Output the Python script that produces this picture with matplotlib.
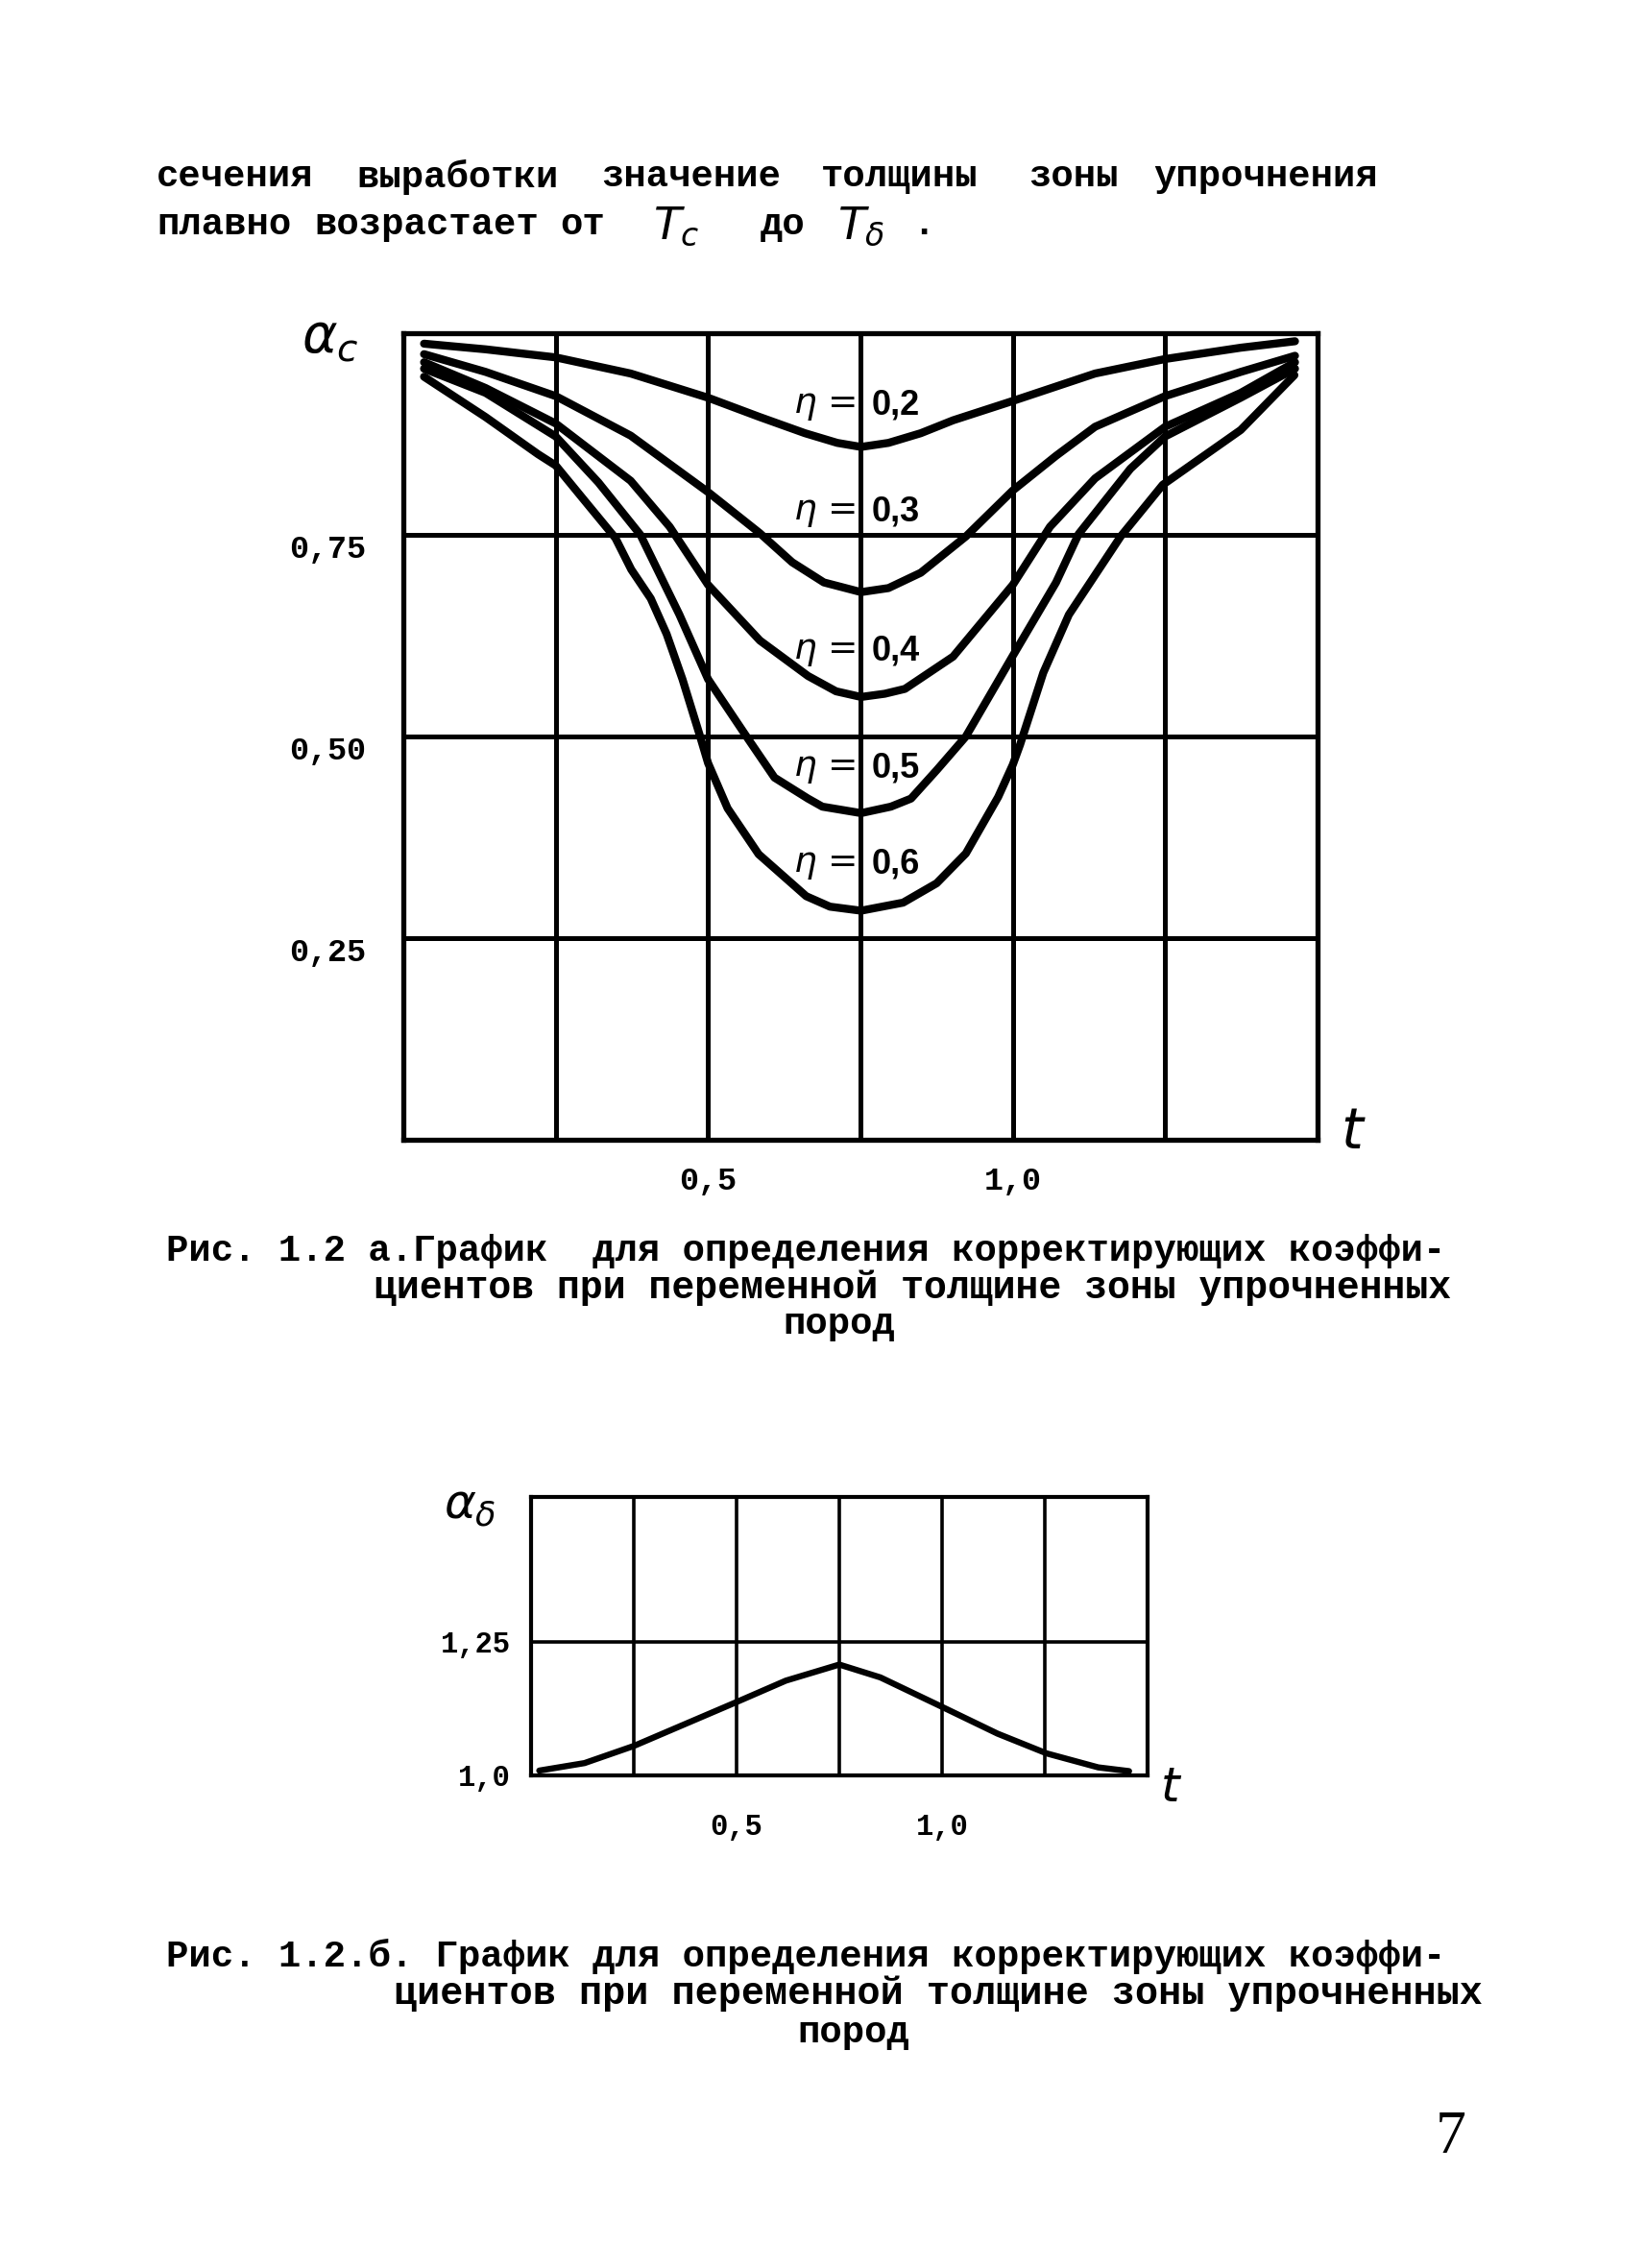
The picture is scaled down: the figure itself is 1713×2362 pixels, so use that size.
import matplotlib
matplotlib.use("Agg")
import matplotlib.pyplot as plt

# ---------------- data ----------------
eta_labels = ["0,2", "0,3", "0,4", "0,5", "0,6"]

t_02 = [0.034, 0.135, 0.25, 0.373, 0.5, 0.585, 0.659, 0.712, 0.751, 0.796, 0.849, 0.902, 1.0, 1.135, 1.25, 1.374, 1.463]
a_02 = [0.987, 0.980, 0.970, 0.950, 0.920, 0.896, 0.876, 0.864, 0.859, 0.864, 0.876, 0.892, 0.916, 0.950, 0.968, 0.982, 0.990]

t_03 = [0.034, 0.135, 0.25, 0.373, 0.5, 0.585, 0.638, 0.690, 0.751, 0.796, 0.849, 0.923, 1.0, 1.071, 1.135, 1.25, 1.374, 1.463]
a_03 = [0.974, 0.952, 0.922, 0.873, 0.803, 0.752, 0.716, 0.691, 0.679, 0.684, 0.703, 0.748, 0.805, 0.848, 0.884, 0.922, 0.952, 0.972]

t_04 = [0.034, 0.135, 0.25, 0.373, 0.437, 0.5, 0.585, 0.664, 0.71, 0.751, 0.79, 0.823, 0.902, 1.0, 1.061, 1.135, 1.25, 1.374, 1.463]
a_04 = [0.964, 0.932, 0.888, 0.817, 0.760, 0.688, 0.619, 0.575, 0.556, 0.549, 0.553, 0.559, 0.599, 0.688, 0.760, 0.820, 0.884, 0.926, 0.964]

t_05 = [0.034, 0.135, 0.25, 0.32, 0.389, 0.453, 0.5, 0.563, 0.609, 0.664, 0.6875, 0.751, 0.80, 0.833, 0.876, 0.923, 1.0, 1.071, 1.108, 1.193, 1.25, 1.374, 1.463]
a_05 = [0.956, 0.926, 0.872, 0.815, 0.750, 0.651, 0.571, 0.500, 0.449, 0.423, 0.413, 0.405, 0.413, 0.423, 0.459, 0.500, 0.600, 0.691, 0.751, 0.832, 0.872, 0.920, 0.956]

t_06 = [0.034, 0.135, 0.221, 0.25, 0.30, 0.348, 0.374, 0.406, 0.432, 0.458, 0.487, 0.5, 0.532, 0.583, 0.661, 0.70, 0.751, 0.82, 0.875, 0.923, 0.976, 1.0, 1.012, 1.05, 1.092, 1.177, 1.246, 1.374, 1.462]
a_06 = [0.946, 0.896, 0.850, 0.836, 0.790, 0.746, 0.707, 0.671, 0.627, 0.571, 0.500, 0.467, 0.411, 0.354, 0.302, 0.289, 0.284, 0.294, 0.318, 0.355, 0.425, 0.465, 0.490, 0.579, 0.651, 0.748, 0.812, 0.880, 0.948]

label_y = [0.911, 0.778, 0.606, 0.461, 0.342]

top_xticks = [0.25, 0.5, 0.75, 1.0, 1.25]
top_xticklabels = ["", "0,5", "", "1,0", ""]
top_yticks = [0.25, 0.5, 0.75]
top_yticklabels = ["0,25", "0,50", "0,75"]

t_b = [0.02, 0.13, 0.25, 0.375, 0.5, 0.62, 0.75, 0.85, 1.0, 1.135, 1.255, 1.38, 1.455]
a_b = [1.009, 1.023, 1.055, 1.096, 1.137, 1.177, 1.207, 1.183, 1.128, 1.078, 1.041, 1.015, 1.008]

bot_yticks = [1.0, 1.25]
bot_yticklabels = ["1,0", "1,25"]

# ---------------- figure ----------------
W, H, DPI = 1713, 2362, 100
plt.rcParams["mathtext.fontset"] = "dejavusans"
fig = plt.figure(figsize=(W / DPI, H / DPI), dpi=DPI, facecolor="white")
MONO = "Liberation Mono"


def fx(x):
    return x / W


def fy(y):
    return 1 - y / H


def ptext(x, y, s, **kw):
    return fig.text(fx(x), fy(y), s, **kw)


renderer = fig.canvas.get_renderer()


def fit_text(x, y, s, target_w, fs0=28, **kw):
    t = ptext(x, y, s, fontsize=fs0, **kw)
    w = t.get_window_extent(renderer).width
    t.set_fontsize(fs0 * target_w / w)
    return t


# ---------- top paragraph ----------
body_kw = dict(family=MONO, weight="bold", fontsize=28, va="center", ha="left")
for word, x in zip(["сечения", "выработки", "значение", "толщины", "зоны", "упрочнения"],
                   [163, 371, 626, 855, 1071, 1201]):
    ptext(x, 184, word, **body_kw)
for word, x in zip(["плавно", "возрастает", "от"], [163, 327, 583]):
    ptext(x, 234, word, **body_kw)
ptext(680, 236, r"$T_c$", fontsize=34, va="center", ha="left")
ptext(792, 234, "до", **body_kw)
ptext(872, 236, r"$T_\delta$", fontsize=34, va="center", ha="left")
ptext(950, 234, ".", **body_kw)

# ---------- top chart ----------
ax = fig.add_axes([fx(420), fy(1187), (1372 - 420) / W, (1187 - 347) / H])
ax.set_xlim(0, 1.5)
ax.set_ylim(0, 1.0)
ax.set_xticks(top_xticks)
ax.set_xticklabels(top_xticklabels, family=MONO, weight="bold", fontsize=24)
ax.set_yticks(top_yticks)
ax.set_yticklabels(top_yticklabels, family=MONO, weight="bold", fontsize=24)
for lb in ax.get_yticklabels():
    lb.set_va("top")
ax.tick_params(length=0, pad=20, axis="x")
ax.tick_params(length=0, pad=28, axis="y")
ax.grid(True, color="black", lw=3.6)
for sp in ax.spines.values():
    sp.set_linewidth(3.8)
for tt, aa in [(t_02, a_02), (t_03, a_03), (t_04, a_04), (t_05, a_05), (t_06, a_06)]:
    ax.plot(tt, aa, color="black", lw=6.0, solid_capstyle="round", solid_joinstyle="round", zorder=3)
for lab, yv in zip(eta_labels, label_y):
    ax.text(0.742, yv, r"$\eta$ =", fontsize=27, ha="right", va="center", zorder=4)
    ax.text(0.768, yv, lab, family="Liberation Sans", weight="bold", fontsize=26,
            ha="left", va="center", zorder=4)

ptext(314, 352, r"$\alpha_c$", fontsize=40, va="center", ha="left")
ptext(1396, 1180, r"$t$", fontsize=42, va="center", ha="left")

# ---------- caption 1 ----------
fit_text(173, 1303, "Рис. 1.2 а.График  для определения корректирующих коэффи-", 1334,
         family=MONO, weight="bold", va="center", ha="left")
fit_text(389, 1341, "циентов при переменной толщине зоны упрочненных", 1125,
         family=MONO, weight="bold", va="center", ha="left")
ptext(874, 1379, "пород", family=MONO, weight="bold", fontsize=28, va="center", ha="center")

# ---------- bottom chart ----------
bx = fig.add_axes([fx(553), fy(1849), (1195 - 553) / W, (1849 - 1559) / H])
bx.set_xlim(0, 1.5)
bx.set_ylim(1.0, 1.52)
bx.set_xticks(top_xticks)
bx.set_xticklabels(top_xticklabels, family=MONO, weight="bold", fontsize=22)
bx.set_yticks(bot_yticks)
bx.set_yticklabels(bot_yticklabels, family=MONO, weight="bold", fontsize=22)
bx.tick_params(length=0, pad=28, axis="x")
bx.tick_params(length=0, pad=15, axis="y")
bx.grid(True, color="black", lw=2.6)
for sp in bx.spines.values():
    sp.set_linewidth(3.0)
bx.plot(t_b, a_b, color="black", lw=4.6, solid_capstyle="round", solid_joinstyle="round", zorder=3)
ptext(462, 1568, r"$\alpha_\delta$", fontsize=36, va="center", ha="left")
ptext(1208, 1862, r"$t$", fontsize=36, va="center", ha="left")

# ---------- caption 2 ----------
fit_text(173, 2037, "Рис. 1.2.б. График для определения корректирующих коэффи-", 1338,
         family=MONO, weight="bold", va="center", ha="left")
fit_text(410, 2076, "циентов при переменной толщине зоны упрочненных", 1134,
         family=MONO, weight="bold", va="center", ha="left")
ptext(889, 2117, "пород", family=MONO, weight="bold", fontsize=28, va="center", ha="center")

# page number
ptext(1511, 2227, "7", family="Liberation Serif", fontsize=46, va="center", ha="center")

fig.savefig("out.png", dpi=DPI, facecolor="white")
